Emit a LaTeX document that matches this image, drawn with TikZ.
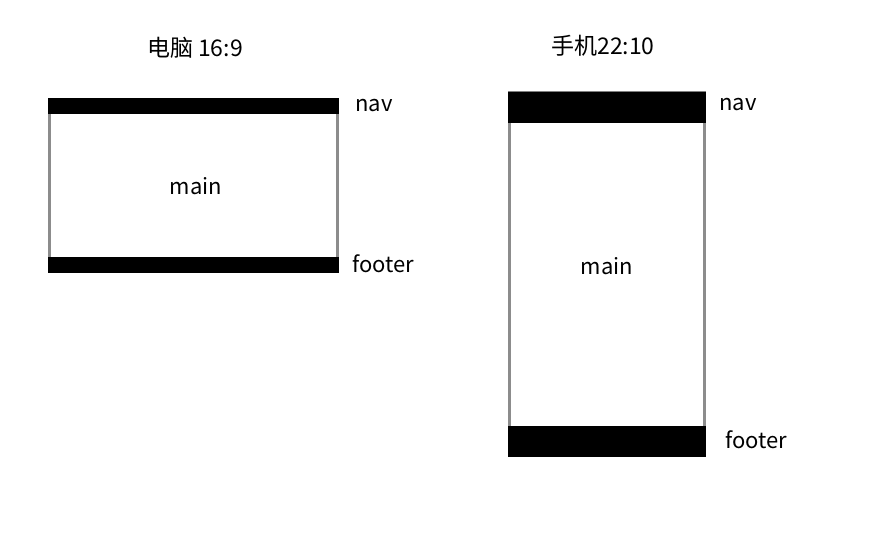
\documentclass[tikz,border=0pt]{standalone}
\usepackage{fontspec}
\setmainfont{Noto Sans CJK SC}
\begin{document}
\begin{tikzpicture}[x=1pt,y=-1pt,
  bar/.style={fill=black,draw=none},
  side/.style={draw=gray!90,line width=2.5pt},
  lbl/.style={font=\fontsize{22}{26}\selectfont,inner sep=0pt},
  ttl/.style={font=\fontsize{23}{27}\selectfont,inner sep=0pt}]
\useasboundingbox[fill=white] (0,0) rectangle (895,553);
% left: desktop
\node[ttl] (t1) at (195,48) {电脑 16:9};
\draw[side] (49.5,114) -- (49.5,257);
\draw[side] (337.5,114) -- (337.5,257);
\path[bar] (48,98) rectangle (339,114);
\path[bar] (48,257) rectangle (339,273);
\node[lbl,anchor=west] (n1) at (355,106) {nav};
\node[lbl] (m1) at (196,186) {main};
\node[lbl,anchor=west] (f1) at (352,264) {footer};
% right: phone
\node[ttl] (t2) at (603,46) {手机22:10};
\draw[side] (509.5,123) -- (509.5,426);
\draw[side] (704.5,123) -- (704.5,426);
\path[bar] (508,91) rectangle (706,123);
\draw[gray,line width=0.8pt] (508,91) -- (706,91);
\path[bar] (508,426) rectangle (706,457);
\node[lbl,anchor=west] (n2) at (719,105) {nav};
\node[lbl] (m2) at (607,266) {main};
\node[lbl,anchor=west] (f2) at (725,440) {footer};
\end{tikzpicture}
\end{document}
